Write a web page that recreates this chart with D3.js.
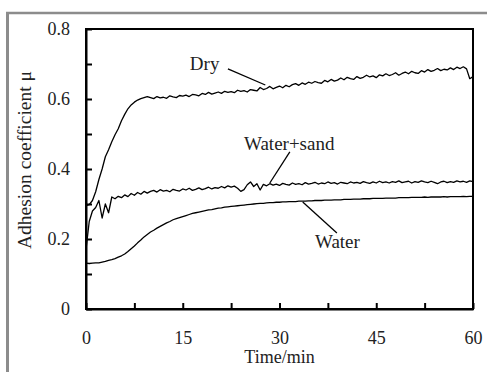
<!DOCTYPE html>
<html>
<head>
<meta charset="utf-8">
<script src="https://cdn.jsdelivr.net/npm/d3@7"></script>
<style>
    html, body { margin: 0; padding: 0; background: #fff; }
    svg { display: block; }
    .axis text { font-family: "Liberation Serif", "Times New Roman", serif; font-size: 18px; fill: #222; }
    .axis path, .axis line { stroke: #000; stroke-width: 2; }
    .curve { fill: none; stroke: #000; stroke-width: 1.3; stroke-linejoin: round; }
    .note { font-family: "Liberation Serif", "Times New Roman", serif; font-size: 19px; fill: #222; }
    .leader { stroke: #000; stroke-width: 1.3; }
</style>
</head>
<body>
<svg id="chart" width="487" height="372"></svg>
<script>
// readings every half minute, t = 0 ... 60 min
const sampleStep = 0.5;

const dryValues = [
    0.295, 0.298, 0.31, 0.335, 0.37, 0.40, 0.435, 0.455, 0.478, 0.498,
    0.515, 0.538, 0.556, 0.572, 0.583, 0.591, 0.597, 0.601, 0.604, 0.607,
    0.604, 0.601, 0.607, 0.603, 0.605, 0.602, 0.609, 0.606, 0.604, 0.61,
    0.608, 0.611, 0.607, 0.613, 0.612, 0.609, 0.616, 0.613, 0.619, 0.614,
    0.617, 0.62, 0.616, 0.622, 0.619, 0.621, 0.618, 0.625, 0.622, 0.624,
    0.62, 0.627, 0.625, 0.623, 0.633, 0.627, 0.63, 0.636, 0.629, 0.633,
    0.637, 0.632, 0.639, 0.635, 0.641, 0.644, 0.639, 0.646, 0.642, 0.648,
    0.645, 0.65, 0.647, 0.645, 0.653, 0.649, 0.656, 0.651, 0.654, 0.66,
    0.655, 0.662, 0.658, 0.656, 0.664, 0.659, 0.662, 0.668, 0.663, 0.666,
    0.661, 0.669, 0.666, 0.672, 0.667, 0.67, 0.675, 0.668, 0.673, 0.677,
    0.672, 0.679, 0.675, 0.673, 0.681, 0.677, 0.684, 0.679, 0.682, 0.687,
    0.681, 0.685, 0.683, 0.689, 0.684, 0.691, 0.687, 0.692, 0.686, 0.658,
    0.664
];

const sandValues = [
    0.17, 0.25, 0.28, 0.29, 0.31, 0.26, 0.30, 0.275, 0.32, 0.315,
    0.322, 0.318, 0.326, 0.321, 0.33, 0.325, 0.333, 0.328, 0.336, 0.331,
    0.336, 0.339, 0.334, 0.341, 0.337, 0.339, 0.335, 0.342, 0.339, 0.337,
    0.343, 0.34, 0.345, 0.339, 0.342, 0.346, 0.341, 0.344, 0.348, 0.343,
    0.347, 0.345, 0.35, 0.346, 0.352, 0.348, 0.351, 0.345, 0.336, 0.341,
    0.355, 0.363, 0.35, 0.358, 0.34, 0.356, 0.352, 0.358, 0.354, 0.357,
    0.353, 0.359, 0.356, 0.354, 0.36, 0.356, 0.358, 0.355, 0.361, 0.357,
    0.359, 0.362, 0.357, 0.36, 0.358, 0.363, 0.359, 0.361, 0.357, 0.362,
    0.36, 0.358, 0.363, 0.36, 0.362, 0.359, 0.364, 0.361, 0.359, 0.363,
    0.36, 0.365, 0.361, 0.363, 0.36, 0.364, 0.362, 0.366, 0.361, 0.363,
    0.365, 0.36, 0.364, 0.362, 0.366, 0.363, 0.361, 0.365, 0.362, 0.358,
    0.363, 0.365, 0.361, 0.364, 0.362, 0.366, 0.363, 0.365, 0.362, 0.366,
    0.364
];

const waterValues = [
    0.131, 0.13, 0.131, 0.132, 0.132, 0.134, 0.136, 0.139, 0.141, 0.144,
    0.148, 0.152, 0.157, 0.164, 0.172, 0.18, 0.189, 0.197, 0.206, 0.213,
    0.22, 0.225, 0.231, 0.236, 0.241, 0.246, 0.25, 0.255, 0.258, 0.261,
    0.264, 0.267, 0.27, 0.273, 0.275, 0.277, 0.279, 0.281, 0.283, 0.284,
    0.286, 0.288, 0.289, 0.291, 0.292, 0.293, 0.294, 0.295, 0.296, 0.297,
    0.298, 0.299, 0.3, 0.301, 0.302, 0.302, 0.303, 0.304, 0.304, 0.305,
    0.305, 0.306, 0.306, 0.307, 0.307, 0.307, 0.308, 0.308, 0.308, 0.309,
    0.309, 0.31, 0.31, 0.31, 0.311, 0.311, 0.311, 0.312, 0.312, 0.312,
    0.313, 0.313, 0.313, 0.314, 0.314, 0.314, 0.315, 0.315, 0.315, 0.316,
    0.316, 0.316, 0.316, 0.317, 0.317, 0.317, 0.317, 0.318, 0.318, 0.318,
    0.318, 0.319, 0.319, 0.319, 0.319, 0.32, 0.319, 0.32, 0.32, 0.32,
    0.32, 0.321, 0.32, 0.321, 0.321, 0.321, 0.321, 0.322, 0.321, 0.322,
    0.322
];

const xTicks = [0, 7.5, 15, 22.5, 30, 37.5, 45, 52.5, 60];
const yTicks = [0, 0.1, 0.2, 0.3, 0.4, 0.5, 0.6, 0.7, 0.8];

// curve labels, placed in data units (min, μ)
const notes = [
    { text: "Dry",        at: [16.1, 0.683], from: [22.0, 0.686], to: [27.8, 0.640] },
    { text: "Water+sand", at: [24.5, 0.454], from: [31.6, 0.449], to: [28.5, 0.360] },
    { text: "Water",      at: [35.5, 0.174], from: [33.6, 0.306], to: [38.9, 0.217] }
];

const svg = d3.select("#chart");
const width = 487, height = 372;
const margin = { top: 29, right: 14, bottom: 63, left: 86 };

const x = d3.scaleLinear().domain([0, 60]).range([margin.left, width - margin.right]);
const y = d3.scaleLinear().domain([0, 0.8]).range([height - margin.bottom, margin.top]);

// grey frame of the figure panel
svg.append("line").attr("x1", 6).attr("x2", width).attr("y1", 13).attr("y2", 13)
    .attr("stroke", "#8c8c8c").attr("stroke-width", 2.5);
svg.append("line").attr("x1", 7.5).attr("x2", 7.5).attr("y1", 12).attr("y2", height)
    .attr("stroke", "#8c8c8c").attr("stroke-width", 3);

// plot box
svg.append("rect")
    .attr("x", x(0)).attr("y", y(0.8))
    .attr("width", x(60) - x(0)).attr("height", y(0) - y(0.8))
    .attr("fill", "none").attr("stroke", "#000").attr("stroke-width", 2);

// axes, ticks pointing inward
const yFmt = d => {
    if (Math.round(d * 10) % 2 !== 0) return "";
    return d === 0 ? "0" : d3.format(".1f")(d);
};
svg.append("g").attr("class", "axis")
    .attr("transform", `translate(${x(0)},0)`)
    .call(d3.axisLeft(y).tickValues(yTicks).tickFormat(yFmt).tickSizeInner(-6).tickSizeOuter(0).tickPadding(16));

svg.append("g").attr("class", "axis")
    .attr("transform", `translate(0,${y(0)})`)
    .call(d3.axisBottom(x).tickValues(xTicks).tickFormat(d => d % 15 === 0 ? d : "").tickSizeInner(-6).tickSizeOuter(0).tickPadding(22));

// axis titles
svg.append("text").attr("class", "note")
    .attr("x", x(30)).attr("y", 363)
    .attr("text-anchor", "middle").style("font-size", "18px")
    .text("Time/min");

svg.append("text").attr("class", "note")
    .attr("transform", `translate(31,${(y(0) + y(0.8)) / 2 - 9}) rotate(-90)`)
    .attr("text-anchor", "middle").style("font-size", "19.5px")
    .text("Adhesion coefficient μ");

// curves
const line = d3.line()
    .x((d, i) => x(i * sampleStep))
    .y(d => y(d));

[dryValues, sandValues, waterValues].forEach(vals => {
    svg.append("path").attr("class", "curve").attr("d", line(vals));
});

// labels with leader lines
notes.forEach(n => {
    svg.append("text").attr("class", "note")
        .attr("x", x(n.at[0])).attr("y", y(n.at[1]))
        .text(n.text);
    svg.append("line").attr("class", "leader")
        .attr("x1", x(n.from[0])).attr("y1", y(n.from[1]))
        .attr("x2", x(n.to[0])).attr("y2", y(n.to[1]));
});
</script>
</body>
</html>
